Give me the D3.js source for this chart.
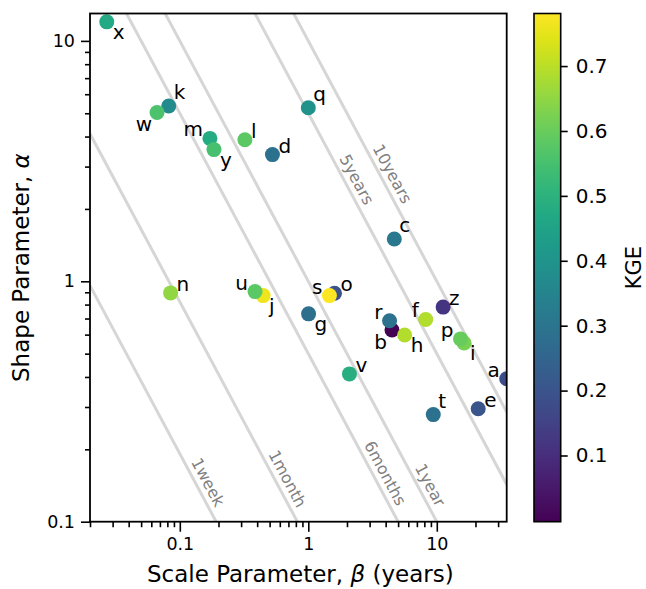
<!DOCTYPE html>
<html>
<head>
<meta charset="utf-8">
<script src="https://cdn.jsdelivr.net/npm/d3@7"></script>
<style>
body { margin:0; background:#fff; overflow:hidden; }
text { font-family: "DejaVu Sans", sans-serif; }
</style>
</head>
<body>
<div id="canvas"></div>
<script>
// catchments: gamma scale (beta, years), shape (alpha) and KGE score
var names      = ['a','b','c','d','e','f','g','h','i','j','k','l','m','n','o','p','q','r','s','t','u','v','w','x','y','z'];
var scaleParam = [35.0, 4.48, 4.67, 0.526, 21.0, 8.2, 1.005, 5.62, 16.3, 0.445, 0.082, 0.321, 0.1715, 0.0848, 1.60, 15.3, 1.0, 4.29, 1.46, 9.39, 0.385, 2.09, 0.0665, 0.027, 0.1844, 11.2];
var shapeParam = [0.393, 0.627, 1.50, 3.365, 0.295, 0.694, 0.732, 0.598, 0.554, 0.872, 5.36, 3.88, 3.93, 0.895, 0.892, 0.576, 5.27, 0.685, 0.872, 0.279, 0.906, 0.412, 5.04, 12.0, 3.53, 0.781];
var kge        = [0.18, 0.0, 0.31, 0.29, 0.20, 0.69, 0.28, 0.69, 0.62, 0.76, 0.37, 0.585, 0.48, 0.65, 0.195, 0.60, 0.39, 0.29, 0.78, 0.29, 0.58, 0.49, 0.56, 0.47, 0.55, 0.12];
// which side of the dot the letter sits on
var labelSide  = ['w','sw','ne','e','e','w','se','se','se','se','ne','e','w','e','e','w','ne','w','w','ne','w','e','sw','se','se','e'];

// lines of constant mean (alpha*beta) in years
var durationNames = ['1week','1month','6months','1year','5years','10years'];
var durationYears = [7/365, 30/365, 0.5, 1, 5, 10];
var durationLabelAlpha = [0.146, 0.151, 0.159, 0.142, 2.65, 2.8];

var xTicks = [0.1, 1, 10];
var yTicks = [0.1, 1, 10];
var kgeTicks = [0.1, 0.2, 0.3, 0.4, 0.5, 0.6, 0.7];
var kgeRange = [-0.002, 0.781];

var margin = {t:13.5, l:90},
    width = 416.7,
    height = 508.2;

var svg = d3.select('#canvas')
    .append('svg')
    .attr('width', 646)
    .attr('height', 589)
    .style('display','block');

var canvas = svg.append('g')
    .attr('transform','translate('+margin.l+','+margin.t+')');

var x = d3.scaleLog().domain([0.02, 35]).range([0, width]);
var y = d3.scaleLog().domain([0.1, 13]).range([height, 0]);
var color = d3.scaleSequential(d3.interpolateViridis).domain(kgeRange);

svg.append('defs').append('clipPath').attr('id','plotclip')
    .append('rect').attr('width',width).attr('height',height);

var plot = canvas.append('g').attr('clip-path','url(#plotclip)');

// duration lines
durationYears.forEach(function(T, i){
    plot.append('line')
        .attr('x1', x(0.02)).attr('y1', y(T/0.02))
        .attr('x2', x(35)).attr('y2', y(T/35))
        .style('stroke','#d6d6d6')
        .style('stroke-width',3);
});

var ang = Math.atan2(y(1) - y(10), x(1) - x(0.1)) * 180 / Math.PI;
durationYears.forEach(function(T, i){
    var a = durationLabelAlpha[i];
    var px = x(T/a) + 13, py = y(a);
    canvas.append('text')
        .attr('transform','translate('+px+','+py+') rotate('+ang+')')
        .attr('text-anchor','middle')
        .attr('dominant-baseline','central')
        .style('font-size','16px')
        .style('fill','#808080')
        .text(durationNames[i]);
});

// dots
var offsets = {e:[6,-2,'start'], ne:[5,-7,'start'], se:[6,17,'start'], w:[-7,-2,'end'], sw:[-5,19,'end']};
names.forEach(function(n, i){
    plot.append('circle')
        .attr('cx', x(scaleParam[i]))
        .attr('cy', y(shapeParam[i]))
        .attr('r', 7.5)
        .style('fill', color(kge[i]));
});
names.forEach(function(n, i){
    var o = offsets[labelSide[i]];
    canvas.append('text')
        .attr('x', x(scaleParam[i]) + o[0])
        .attr('y', y(shapeParam[i]) + o[1])
        .attr('text-anchor', o[2])
        .style('font-size','20px')
        .text(n);
});

// axes
function minors(lo, hi){
    var out = [];
    for(var d = -2; d <= 1; d++){
        for(var k = 2; k <= 9; k++){
            var v = k * Math.pow(10, d);
            if(v >= lo && v <= hi) out.push(v);
        }
    }
    return out;
}

canvas.append('g').attr('transform','translate(0,'+height+')')
    .call(d3.axisBottom(x).tickValues(xTicks).tickFormat(d3.format('~g')).tickSize(10).tickPadding(6).tickSizeOuter(0));
canvas.append('g').attr('transform','translate(0,'+height+')')
    .call(d3.axisBottom(x).tickValues(minors(0.02, 35)).tickFormat('').tickSize(5.5).tickSizeOuter(0));
canvas.append('g')
    .call(d3.axisLeft(y).tickValues(yTicks).tickFormat(d3.format('~g')).tickSize(9).tickPadding(6).tickSizeOuter(0));
canvas.append('g')
    .call(d3.axisLeft(y).tickValues(minors(0.1, 13)).tickFormat('').tickSize(5).tickSizeOuter(0));

canvas.selectAll('.tick line').style('stroke','#000').style('stroke-width',1.6);
canvas.selectAll('.domain').remove();
canvas.selectAll('.tick text').style('font-size','17.5px').style('fill','#000').style('font-family','"DejaVu Sans", sans-serif');

canvas.append('rect')
    .attr('width',width)
    .attr('height',height)
    .style('fill','none')
    .style('stroke','#000')
    .style('stroke-width',1.8);

// axis titles
var xl = canvas.append('text')
    .attr('x', width/2 + 2).attr('y', height + 60)
    .attr('text-anchor','middle')
    .style('font-size','23px');
xl.append('tspan').text('Scale Parameter, ');
xl.append('tspan').style('font-style','italic').text('\u03B2');
xl.append('tspan').text(' (years)');

var yl = canvas.append('text')
    .attr('transform','translate('+(29 - margin.l)+','+(height/2)+') rotate(-90)')
    .attr('text-anchor','middle')
    .style('font-size','23px');
yl.append('tspan').text('Shape Parameter, ');
yl.append('tspan').style('font-style','italic').text('\u03B1');

// colorbar
var cb = svg.append('g').attr('transform','translate(534,'+margin.t+')');
var cbW = 26.7;
var grad = svg.select('defs').append('linearGradient')
    .attr('id','kgegrad').attr('x1',0).attr('y1',1).attr('x2',0).attr('y2',0);
d3.range(0, 1.0001, 0.05).forEach(function(t){
    grad.append('stop').attr('offset', t).attr('stop-color', d3.interpolateViridis(t));
});
cb.append('rect').attr('width',cbW).attr('height',height).style('fill','url(#kgegrad)');
var cy = d3.scaleLinear().domain(kgeRange).range([height, 0]);
var cAxis = cb.append('g').attr('transform','translate('+cbW+',0)')
    .call(d3.axisRight(cy).tickValues(kgeTicks).tickFormat(d3.format('.1f')).tickSize(7).tickPadding(8).tickSizeOuter(0));
cAxis.select('.domain').remove();
cAxis.selectAll('.tick line').style('stroke','#000').style('stroke-width',1.6);
cAxis.selectAll('.tick text').style('font-size','20px').style('fill','#000').style('font-family','"DejaVu Sans", sans-serif');
cb.append('rect').attr('width',cbW).attr('height',height)
    .style('fill','none').style('stroke','#000').style('stroke-width',1.6);
cb.append('text')
    .attr('transform','translate(107,'+(height/2)+') rotate(-90)')
    .attr('text-anchor','middle')
    .style('font-size','21px')
    .text('KGE');
</script>
</body>
</html>
